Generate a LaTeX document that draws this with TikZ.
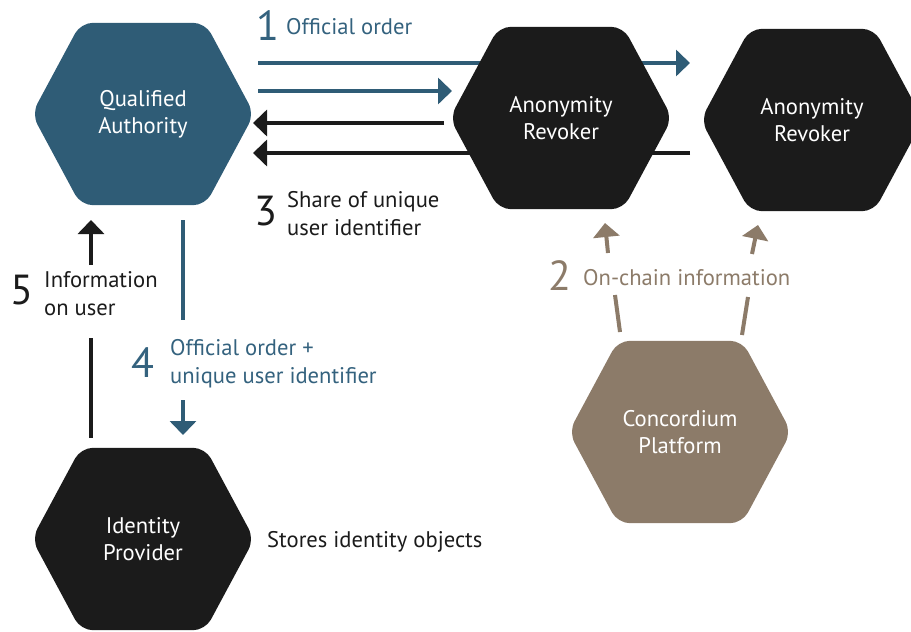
\documentclass[tikz,border=0pt]{standalone}
\usepackage{fontspec}
\setmainfont{PT Sans}
\usetikzlibrary{arrows.meta,calc}
\definecolor{qablue}{RGB}{47,92,118}
\definecolor{lblue}{RGB}{52,98,126}
\definecolor{hexblack}{RGB}{27,27,27}
\definecolor{cbrown}{RGB}{140,123,105}
\pgfdeclarelayer{arrowlayer}
\pgfdeclarelayer{hexlayer}
\pgfsetlayers{arrowlayer,hexlayer,main}
\newcommand\hexfill[2]{\fill[#2,rounded corners=12pt] (#1.west) -- ($(#1.north west)+(49,0)$) -- ($(#1.north east)+(-49,0)$) -- (#1.east) -- ($(#1.south east)+(-49,0)$) -- ($(#1.south west)+(49,0)$) -- cycle;}
\begin{document}
\begin{tikzpicture}[x=1pt,y=-1pt,
  hexnode/.style={minimum width=222pt,minimum height=182pt,inner sep=0pt,align=center,text=white,font=\fontsize{22.6}{27}\selectfont},
  lbl/.style={anchor=base west,inner sep=0pt,align=left,font=\fontsize{22.6}{28}\selectfont},
  num/.style={anchor=base west,inner sep=0pt,font=\fontsize{42}{42}\selectfont},
  conn/.style={line width=4pt},
  tip/.style={-{Triangle[length=14pt,width=26pt]}}
]
\useasboundingbox (0,0) rectangle (911,632);
% hexagon nodes
\node[hexnode] (qa) at (143,114) {Qualified\\Authority};
\node[hexnode] (ar1) at (561,118) {Anonymity\\Revoker};
\node[hexnode] (ar2) at (812,120) {Anonymity\\Revoker};
\node[hexnode] (cp) at (680,432) {Concordium\\Platform};
\node[hexnode] (ip) at (143,539) {Identity\\Provider};
\begin{pgfonlayer}{hexlayer}
\hexfill{qa}{qablue}
\hexfill{ar1}{hexblack}
\hexfill{ar2}{hexblack}
\hexfill{cp}{cbrown}
\hexfill{ip}{hexblack}
\end{pgfonlayer}
% connector end points
\coordinate (o1s) at (258,63);  \coordinate (o1e) at (690,63);
\coordinate (o2s) at (258,91);  \coordinate (o2e) at (452,91);
\coordinate (s1s) at (444,123); \coordinate (s1e) at (253,123);
\coordinate (s2s) at (690,153); \coordinate (s2e) at (253,153);
\coordinate (f4a) at (183,220); \coordinate (f4b) at (183,320);
\coordinate (f4c) at (183,400); \coordinate (f4d) at (183,435);
\coordinate (i5a) at (91,265);  \coordinate (i5b) at (91,220);
\coordinate (i5c) at (91,338);  \coordinate (i5d) at (91,438);
\coordinate (lb1) at (620,332); \coordinate (lb2) at (615,295);
\coordinate (lb3) at (608,253); \coordinate (lb4) at (605,223);
\coordinate (rb1) at (742,335); \coordinate (rb2) at (748,297);
\coordinate (rb3) at (752,254); \coordinate (rb4) at (758,225);
\begin{pgfonlayer}{arrowlayer}
\draw[conn,qablue,tip] (o1s) -- (o1e);
\draw[conn,qablue,tip] (o2s) -- (o2e);
\draw[conn,hexblack,tip] (s1s) -- (s1e);
\draw[conn,hexblack,tip] (s2s) -- (s2e);
\draw[conn,qablue] (f4a) -- (f4b);
\draw[conn,qablue,tip] (f4c) -- (f4d);
\draw[conn,hexblack,tip] (i5a) -- (i5b);
\draw[conn,hexblack] (i5c) -- (i5d);
\draw[conn,cbrown] (lb1) -- (lb2);
\draw[conn,cbrown,tip] (lb3) -- (lb4);
\draw[conn,cbrown] (rb1) -- (rb2);
\draw[conn,cbrown,tip] (rb3) -- (rb4);
\end{pgfonlayer}
% labels
\node[num,text=lblue] (n1) at (256,40) {1};
\node[lbl,text=lblue] (t1) at (286,34) {Official order};
\node[num,text=hexblack] (n3) at (254,225) {3};
\node[lbl,text=hexblack] (t3) at (287,235) {Share of unique\\user identifier};
\node[num,text=cbrown] (n2) at (548,290) {2};
\node[lbl,text=cbrown] (t2) at (583,285) {On-chain information};
\node[num,text=hexblack] (n5) at (10,304) {5};
\node[lbl,text=hexblack] (t5) at (44,315) {Information\\on user};
\node[num,text=lblue] (n4) at (131,377) {4};
\node[lbl,text=lblue] (t4) at (170,383) {Official order +\\unique user identifier};
\node[lbl,text=hexblack] (t6) at (267,547) {Stores identity objects};
\end{tikzpicture}
\end{document}
